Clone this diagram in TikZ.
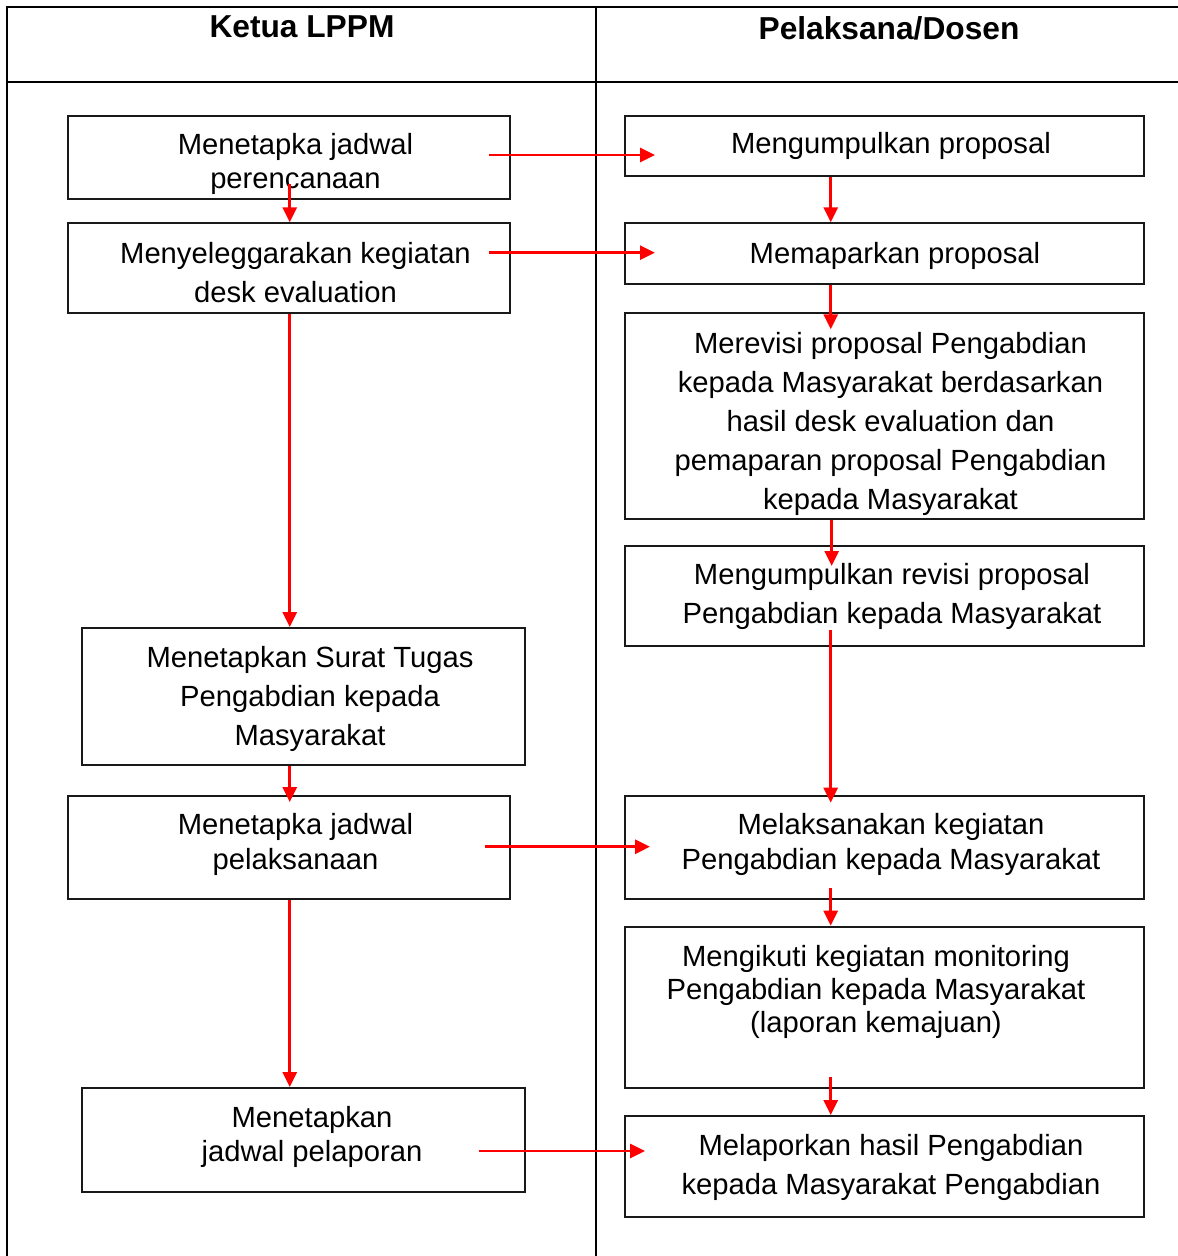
\documentclass[tikz,border=0pt]{standalone}
\usepackage{fontspec}
\setmainfont{Liberation Sans}
\usetikzlibrary{arrows.meta,calc}
\tikzset{
  tbl/.style={draw=black, line width=2pt},
  box/.style={draw=black!90, line width=2pt, inner sep=0pt, minimum width=#1},
  tx/.style={anchor=north, inner sep=0pt, align=center, font=\fontsize{29.2pt}{#1}\selectfont},
  hd/.style={anchor=north, inner sep=0pt, font=\fontsize{31.7pt}{36pt}\selectfont\bfseries},
  arr/.style={draw=red, line width=2.8pt, -{Triangle[length=15pt,width=14pt]}}
}
\begin{document}
\begin{tikzpicture}[x=1pt,y=-1pt]
\useasboundingbox (0,0) rectangle (1178,1256);
% table
\draw[tbl] (1178,7) -- (7,7) -- (7,1256);
\draw[tbl] (7,81.5) -- (1178,81.5);
\draw[tbl] (596,7) -- (596,1256);
\node[hd] (h1) at (302,15) {Ketua LPPM};
\node[hd] (h2) at (889,16) {Pelaksana/Dosen};
% boxes left
\node[box=442.5pt, minimum height=83pt] (L1) at (288.75,157.2) {};
\node[box=442.5pt, minimum height=90pt] (L2) at (288.75,268.3) {};
\node[box=442.5pt, minimum height=136.7pt] (L3) at (303.25,696.35) {};
\node[box=442.5pt, minimum height=103pt] (L4) at (288.75,847.5) {};
\node[box=442.5pt, minimum height=104.3pt] (L5) at (303.25,1140.15) {};
% boxes right
\node[box=519pt, minimum height=60pt] (R1) at (884.5,145.7) {};
\node[box=519pt, minimum height=61pt] (R2) at (884.5,253.8) {};
\node[box=519pt, minimum height=206pt] (R3) at (884.5,416.3) {};
\node[box=519pt, minimum height=99.7pt] (R4) at (884.5,595.85) {};
\node[box=519pt, minimum height=103.3pt] (R5) at (884.5,847.35) {};
\node[box=519pt, minimum height=161.6pt] (R6) at (884.5,1007.5) {};
\node[box=519pt, minimum height=100.7pt] (R7) at (884.5,1166.35) {};
% texts
\node[tx=34pt] (t1) at (295.5,133) {Menetapka jadwal\\perencanaan};
\node[tx=39pt] (t2) at (295.5,242) {Menyeleggarakan kegiatan\\desk evaluation};
\node[tx=39pt] (t3) at (310,645.7) {Menetapkan Surat Tugas\\Pengabdian kepada\\Masyarakat};
\node[tx=34.5pt] (t4) at (295.5,813.3) {Menetapka jadwal\\pelaksanaan};
\node[tx=34.3pt] (t5) at (312,1105.7) {Menetapkan\\jadwal pelaporan};
\node[tx=34pt] (u1) at (891,132.3) {Mengumpulkan proposal};
\node[tx=34pt] (u2) at (895,242.3) {Memaparkan proposal};
\node[tx=39pt] (u3) at (890.5,331.7) {Merevisi proposal Pengabdian\\kepada Masyarakat berdasarkan\\hasil desk evaluation dan\\pemaparan proposal Pengabdian\\kepada Masyarakat};
\node[tx=38.4pt] (u4) at (892,563.3) {Mengumpulkan revisi proposal\\Pengabdian kepada Masyarakat};
\node[tx=35pt] (u5) at (891,813.3) {Melaksanakan kegiatan\\Pengabdian kepada Masyarakat};
\node[tx=33.3pt] (u6) at (876,945) {Mengikuti kegiatan monitoring\\Pengabdian kepada Masyarakat\\(laporan kemajuan)};
\node[tx=39.3pt] (u7) at (891,1134) {Melaporkan hasil Pengabdian\\kepada Masyarakat Pengabdian};
% arrows left column
\draw[arr] ($(L1.south)+(1,-15.7)$) -- ($(L2.north)+(1,0)$);
\draw[arr] ($(L2.south)+(1,0)$) -- ($(L2.south |- L3.north)+(1,0)$);
\draw[arr] ($(L3.south -| L4.north)+(1,0)$) -- ($(L4.north)+(1,7)$);
\draw[arr] ($(L4.south)+(1,0)$) -- ($(L4.south |- L5.north)+(1,0)$);
% arrows right column
\coordinate (rc) at (830.7,0);
\draw[arr] (rc |- R1.south) -- (rc |- R2.north);
\draw[arr] (rc |- R2.south) -- ($(rc |- R3.north)+(0,17)$);
\draw[arr] ($(rc |- R3.south)+(1,0)$) -- ($(rc |- R4.north)+(1,21)$);
\draw[arr] ($(rc |- R4.south)+(0,-17)$) -- ($(rc |- R5.north)+(0,8)$);
\draw[arr] ($(rc |- R5.south)+(0,-12)$) -- (rc |- R6.north);
\draw[arr] ($(rc |- R6.south)+(0,-12)$) -- (rc |- R7.north);
% horizontal arrows
\draw[arr] ($(L1.east)+(-22,-2.2)$) -- ($(R1.west |- L1.east)+(31,-2.2)$);
\draw[arr] ($(L2.east)+(-22,-15.6)$) -- ($(R2.west |- L2.east)+(31,-15.6)$);
\draw[arr] ($(L4.east)+(-26,-0.8)$) -- ($(R5.west |- L4.east)+(26,-0.8)$);
\draw[arr] ($(L5.east)+(-46.6,10.8)$) -- ($(R7.west |- L5.east)+(21,10.8)$);
\end{tikzpicture}
\end{document}
